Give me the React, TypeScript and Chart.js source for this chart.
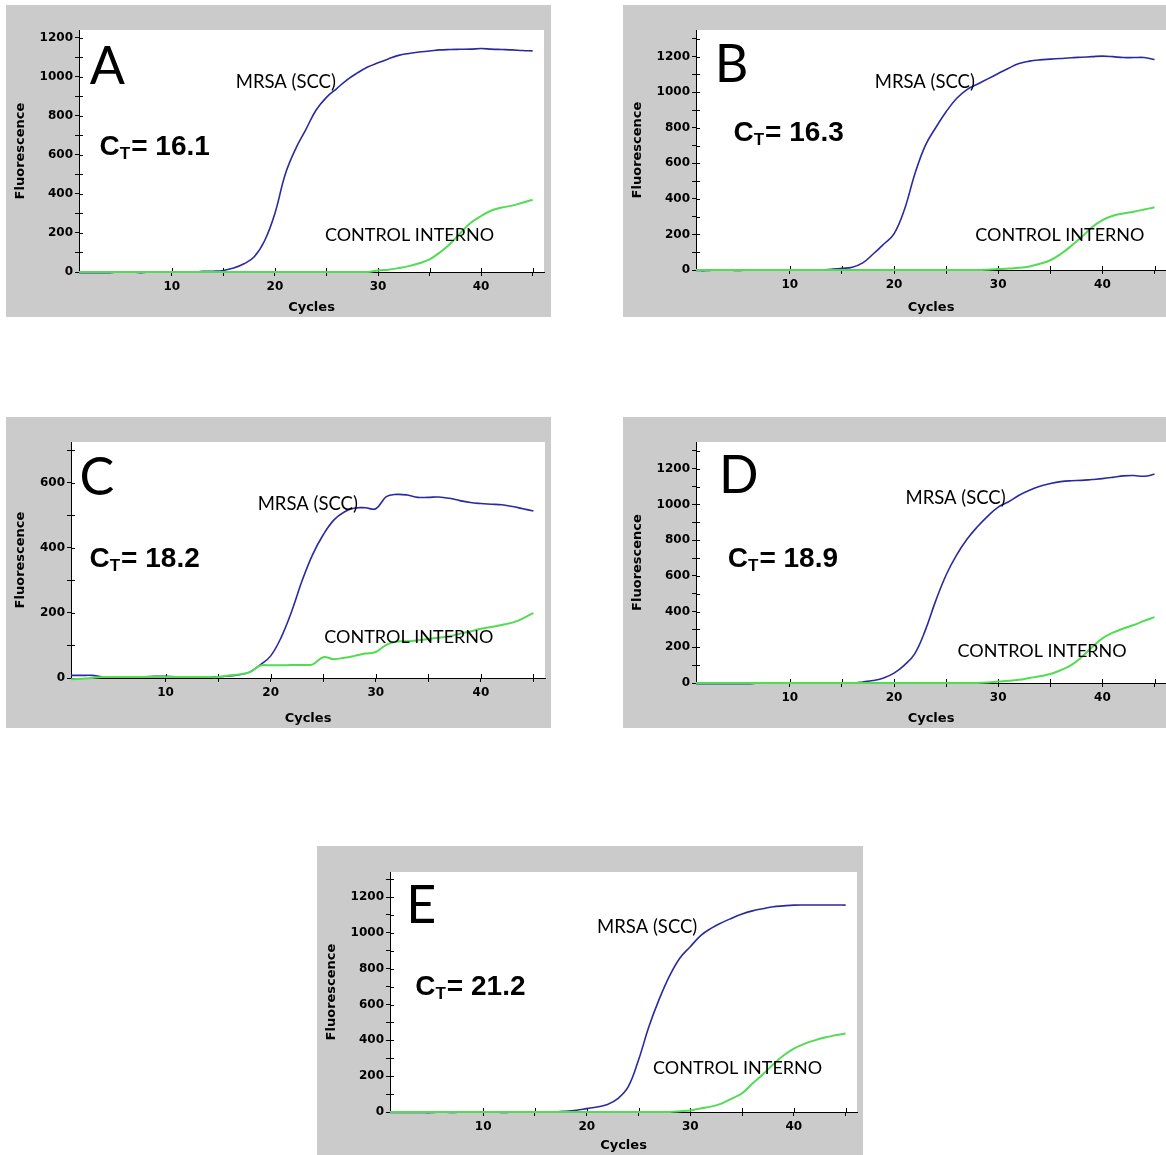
import React, { useEffect, useRef } from 'react';
import { Chart, registerables } from 'chart.js';

Chart.register(...registerables);

// ---------- data ----------
const cycles = [1, 2, 3, 4, 5, 6, 7, 8, 9, 10, 11, 12, 13, 14, 15, 16, 17, 18, 19, 20, 21, 22, 23, 24, 25, 26, 27, 28, 29, 30, 31, 32, 33, 34, 35, 36, 37, 38, 39, 40, 41, 42, 43, 44, 45];

const mrsaA = [-3, -3, -3, -3, 0, 0, -3, 0, 0, 0, 0, 0, 3, 4, 8, 20, 42, 78, 160, 300, 500, 630, 730, 830, 895, 940, 985, 1020, 1050, 1072, 1092, 1110, 1120, 1127, 1132, 1138, 1140, 1141, 1142, 1145, 1142, 1140, 1138, 1135, 1133];
const ctrlA = [0, 0, 0, 0, 0, 0, 0, 0, 0, 0, 0, 0, 0, 0, 0, 0, 0, 0, 0, 0, 0, 0, 0, 0, 0, 0, 0, 0, 0, 8, 12, 20, 30, 45, 65, 100, 145, 200, 252, 287, 315, 330, 340, 355, 370];

const mrsaB = [-3, -3, 0, 0, -3, 0, 0, 0, 0, 0, 0, 0, 0, 4, 9, 16, 40, 90, 145, 203, 340, 540, 700, 800, 890, 965, 1015, 1045, 1075, 1105, 1135, 1162, 1175, 1182, 1186, 1190, 1194, 1197, 1200, 1203, 1200, 1195, 1195, 1195, 1184];
const ctrlB = [0, 0, 0, 0, 0, 0, 0, 0, 0, 0, 0, 0, 0, 0, 0, 0, 0, 0, 0, 0, 0, 0, 0, 0, 0, 0, 0, 0, 2, 5, 8, 12, 20, 35, 55, 90, 135, 185, 240, 280, 305, 318, 328, 340, 353];

const mrsaC = [8, 8, 8, 4, 4, 4, 4, 4, 5, 5, 4, 4, 4, 4, 4, 6, 10, 18, 40, 68, 125, 205, 300, 380, 440, 485, 510, 522, 523, 520, 557, 564, 562, 555, 555, 556, 552, 545, 539, 536, 534, 532, 527, 520, 513];
const ctrlC = [-4, -2, 0, 3, 3, 3, 3, 3, 3, 3, 3, 3, 3, 3, 3, 8, 11, 18, 38, 39, 39, 40, 40, 42, 64, 58, 62, 68, 75, 80, 102, 112, 113, 116, 120, 124, 128, 136, 143, 151, 157, 163, 170, 183, 200];

const mrsaD = [-4, -4, -4, -4, -4, -4, 0, 0, 0, 0, 0, 0, 0, 0, 0, 0, 6, 14, 28, 55, 100, 165, 295, 460, 605, 716, 805, 875, 935, 985, 1015, 1052, 1080, 1102, 1117, 1128, 1133, 1135, 1140, 1145, 1152, 1160, 1162, 1158, 1169];
const ctrlD = [0, 0, 0, 0, 0, 0, 0, 0, 0, 0, 0, 0, 0, 0, 0, 0, 0, 0, 0, 0, 0, 0, 0, 0, 0, 0, 0, 0, 3, 8, 12, 18, 28, 38, 50, 72, 100, 145, 200, 250, 282, 305, 325, 348, 369];

const mrsaE = [-3, -3, -3, -3, -3, 0, -3, 0, 0, 0, 0, -3, 0, 0, 0, 0, 0, 4, 10, 19, 28, 42, 75, 140, 290, 476, 630, 760, 860, 923, 985, 1025, 1056, 1082, 1106, 1123, 1135, 1146, 1151, 1155, 1156, 1156, 1156, 1156, 1155];
const ctrlE = [0, 0, 0, 0, 0, 0, 0, 0, 0, 0, 0, 0, 0, 0, 0, 0, 0, 0, 0, 0, 0, 0, 0, 0, 0, 0, 0, 0, 4, 9, 20, 30, 47, 75, 105, 159, 210, 265, 315, 354, 380, 400, 416, 428, 438];

const panelLetters = ['A', 'B', 'C', 'D', 'E'];
const ctValues = ['16.1', '16.3', '18.2', '18.9', '21.2'];
const yMaxes = [1240, 1350, 725, 1350, 1340];
const mrsaSeries = [mrsaA, mrsaB, mrsaC, mrsaD, mrsaE];
const ctrlSeries = [ctrlA, ctrlB, ctrlC, ctrlD, ctrlE];

const xMin = 1;
const xMax = 46.1;
const seriesNames = ['CONTROL INTERNO', 'MRSA (SCC)'];
const xTitle = 'Cycles';
const yTitle = 'Fluorescence';

// ---------- layout (page pixels) ----------
type Box = { x: number; y: number; w: number; h: number };
type Area = { l: number; t: number; r: number; b: number };
const boxes: Box[] = [
  { x: 6, y: 5, w: 545, h: 312 },
  { x: 623, y: 5, w: 543, h: 312 },
  { x: 6, y: 417, w: 545, h: 311 },
  { x: 623, y: 417, w: 543, h: 311 },
  { x: 317, y: 846, w: 546, h: 309 },
];
const areas: Area[] = [
  { l: 79, t: 30, r: 544, b: 272 },
  { l: 696, t: 30, r: 1166, b: 270 },
  { l: 71, t: 442, r: 545, b: 678 },
  { l: 696, t: 442, r: 1166, b: 683 },
  { l: 390, t: 872, r: 857, b: 1112 },
];
// annotation anchor points in data coordinates [cycle, fluorescence]
const letterPos = [[2.04, 964], [2.8, 1059], [1.8, 563], [3.2, 1066], [2.57, 1056]];
const ctPos = [[3.0, 600], [4.6, 727], [2.76, 342], [4.05, 651], [3.44, 654]];
const mrsaPos = [[16.2, 944], [18.15, 1025], [18.76, 517], [21.1, 1004], [21.0, 1000]];
const ctrlPos = [[24.85, 159], [27.8, 163], [25.1, 108], [26.1, 146], [26.4, 212]];

const GRAY = '#cbcbcb';
const BLUE = '#2a2aa0';
const GREEN = '#52dc52';
const AXIS_FONT = 'DejaVu Sans';
const NOTE_FONT = 'Lato';

function PanelChart({ i }: { i: number }) {
  const ref = useRef<HTMLCanvasElement | null>(null);
  const box = boxes[i];
  const area = areas[i];

  useEffect(() => {
    if (!ref.current) return;
    const padTop = area.t - box.y;
    const padRight = box.x + box.w - area.r;
    const yW = area.l - box.x;
    const xH = box.y + box.h - area.b;

    const bgPlugin = {
      id: 'bg',
      beforeDraw(chart: any) {
        const { ctx, chartArea: a } = chart;
        ctx.save();
        ctx.fillStyle = GRAY;
        ctx.fillRect(0, 0, chart.width, chart.height);
        ctx.fillStyle = '#ffffff';
        ctx.fillRect(a.left, a.top, a.right - a.left, a.bottom - a.top);
        ctx.restore();
      },
    };

    const innerTicks = {
      id: 'innerTicks',
      beforeDatasetsDraw(chart: any) {
        const { ctx, chartArea: a, scales } = chart;
        ctx.save();
        ctx.strokeStyle = '#000';
        ctx.lineWidth = 1;
        ctx.beginPath();
        for (const t of scales.x.ticks) {
          const px = Math.round(scales.x.getPixelForValue(t.value)) + 0.5;
          ctx.moveTo(px, a.bottom);
          ctx.lineTo(px, a.bottom - 4);
        }
        for (const t of scales.y.ticks) {
          const py = Math.round(scales.y.getPixelForValue(t.value)) + 0.5;
          ctx.moveTo(a.left, py);
          ctx.lineTo(a.left + 4, py);
        }
        ctx.stroke();
        ctx.restore();
      },
    };

    const notes = {
      id: 'notes',
      afterDatasetsDraw(chart: any) {
        const { ctx, scales } = chart;
        const X = (v: number) => scales.x.getPixelForValue(v);
        const Y = (v: number) => scales.y.getPixelForValue(v);
        ctx.save();
        ctx.fillStyle = '#000';
        ctx.textBaseline = 'alphabetic';
        ctx.textAlign = 'left';
        ctx.font = `52px ${NOTE_FONT}`;
        ctx.fillText(panelLetters[i], X(letterPos[i][0]), Y(letterPos[i][1]));
        ctx.font = `18.5px ${NOTE_FONT}`;
        ctx.fillText(seriesNames[1], X(mrsaPos[i][0]), Y(mrsaPos[i][1]));
        ctx.font = `18px ${NOTE_FONT}`;
        ctx.fillText(seriesNames[0], X(ctrlPos[i][0]), Y(ctrlPos[i][1]));
        let cx = X(ctPos[i][0]);
        const cy = Y(ctPos[i][1]);
        ctx.font = 'bold 28px "Liberation Sans", Arial, sans-serif';
        ctx.fillText('C', cx, cy);
        cx += ctx.measureText('C').width;
        ctx.font = 'bold 17px "Liberation Sans", Arial, sans-serif';
        ctx.fillText('T', cx, cy + 4.5);
        cx += ctx.measureText('T').width + 1;
        ctx.font = 'bold 28px "Liberation Sans", Arial, sans-serif';
        ctx.fillText('= ' + ctValues[i], cx, cy);
        ctx.restore();
      },
    };

    const mk = (vals: number[]) => vals.map((v, k) => ({ x: cycles[k], y: v }));

    const chart = new Chart(ref.current, {
      type: 'line',
      data: {
        datasets: [
          {
            label: seriesNames[0],
            data: mk(ctrlSeries[i]),
            borderColor: GREEN,
            borderWidth: 2,
            pointRadius: 0,
            tension: 0.4,
            clip: false as any,
          },
          {
            label: seriesNames[1],
            data: mk(mrsaSeries[i]),
            borderColor: BLUE,
            borderWidth: 1.6,
            pointRadius: 0,
            tension: 0.4,
            clip: false as any,
          },
        ],
      },
      options: {
        animation: false,
        responsive: false,
        maintainAspectRatio: false,
        devicePixelRatio: 1,
        layout: { padding: { left: 0, top: padTop, right: padRight, bottom: 0 } },
        plugins: { legend: { display: false }, tooltip: { enabled: false } },
        scales: {
          x: {
            type: 'linear',
            min: xMin,
            max: xMax,
            afterFit(scale: any) {
              scale.height = xH;
            },
            afterBuildTicks(scale: any) {
              scale.ticks = scale.ticks.filter((t: any) => t.value >= 10);
            },
            ticks: {
              stepSize: 5,
              includeBounds: false,
              autoSkip: false,
              maxRotation: 0,
              padding: 4,
              color: '#000',
              font: { family: AXIS_FONT, weight: 'bold', size: 12 },
              callback: (v: any) => (Number(v) % 10 === 0 ? String(v) : ''),
            },
            grid: { display: true, drawOnChartArea: false, drawTicks: true, tickLength: 4, color: '#000', lineWidth: 1 },
            border: { display: true, color: '#000', width: 1 },
            title: {
              display: true,
              text: xTitle,
              color: '#000',
              font: { family: AXIS_FONT, weight: 'bold', size: 13 },
              padding: { top: 0, bottom: 2 },
            },
          },
          y: {
            type: 'linear',
            min: 0,
            max: yMaxes[i],
            afterFit(scale: any) {
              scale.width = yW;
            },
            ticks: {
              stepSize: 100,
              includeBounds: false,
              autoSkip: false,
              padding: 2,
              color: '#000',
              font: { family: AXIS_FONT, weight: 'bold', size: 12 },
              callback: (v: any) => (Number(v) % 200 === 0 ? String(v) : ''),
            },
            grid: { display: true, drawOnChartArea: false, drawTicks: true, tickLength: 4, color: '#000', lineWidth: 1 },
            border: { display: true, color: '#000', width: 1 },
            title: {
              display: true,
              text: yTitle,
              color: '#000',
              font: { family: AXIS_FONT, weight: 'bold', size: 13 },
              padding: { top: 7, bottom: 0 },
            },
          },
        },
      } as any,
      plugins: [bgPlugin, innerTicks, notes],
    });
    return () => chart.destroy();
  }, [i]);

  return (
    <div style={{ position: 'absolute', left: box.x, top: box.y, width: box.w, height: box.h }}>
      <canvas ref={ref} width={box.w} height={box.h} style={{ display: 'block', width: box.w, height: box.h }} />
    </div>
  );
}

export default function App() {
  return (
    <div style={{ position: 'absolute', left: 0, top: 0, width: 1166, height: 1155, background: '#fff', overflow: 'hidden' }}>
      {panelLetters.map((_, i) => (
        <PanelChart key={i} i={i} />
      ))}
    </div>
  );
}
